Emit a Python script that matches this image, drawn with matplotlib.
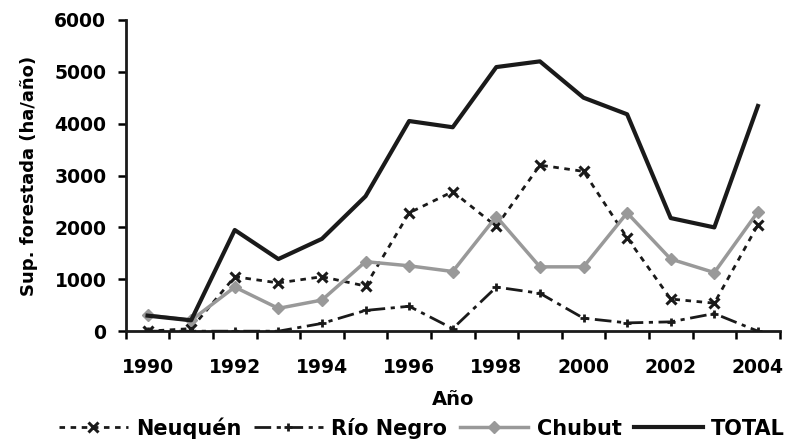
import matplotlib
matplotlib.use('Agg')
from matplotlib import pyplot as plt
import numpy as np

years = list(range(1990, 2005))
neuquen = [0, 50, 1050, 930, 1050, 870, 2280, 2690, 2020, 3200, 3080, 1800, 620, 540, 2050]
rio_negro = [0, 0, 0, 0, 150, 400, 480, 50, 850, 730, 250, 160, 180, 340, 0]
chubut = [310, 210, 850, 440, 600, 1340, 1260, 1150, 2210, 1240, 1240, 2280, 1390, 1130, 2300]
total = [300, 210, 1950, 1390, 1780, 2600, 4050, 3930, 5090, 5200, 4500, 4180, 2180, 2000, 4340]
year_labels = [str(y) for y in years[::2]]

plt.rcParams['font.family'] = ['DejaVu Sans']
plt.rcParams['font.weight'] = 'bold'

fig = plt.figure(figsize=(7.86, 4.41), dpi=100)
ax = fig.add_axes([0.160, 0.249, 0.832, 0.706])

x = np.arange(len(years))
ax.plot(x, neuquen, color='#1a1a1a', linestyle=(0, (2, 2)), linewidth=2,
        marker='x', markersize=7, markeredgewidth=2.2, label='Neuquén')
ax.plot(x, rio_negro, color='#1a1a1a', linestyle=(0, (6, 2, 1.5, 2)), linewidth=2,
        marker='+', markersize=6, markeredgewidth=2, label='Río Negro')
ax.plot(x, chubut, color='#999999', linewidth=2.5,
        marker='D', markersize=6, label='Chubut')
ax.plot(x, total, color='#1a1a1a', linewidth=3, label='TOTAL')

ax.set_xlim(-0.5, len(years) - 0.5)
ax.set_ylim(0, 6000)
ax.set_yticks(range(0, 6001, 1000))
ax.set_xticks(np.arange(-0.5, len(years), 1.0))
ax.set_xticklabels([])
ax.set_xticks(x[::2], minor=True)
ax.set_xticklabels(year_labels, minor=True)
ax.tick_params(axis='x', which='minor', length=0, pad=19, labelsize=13.5)
ax.tick_params(axis='x', which='major', direction='out', length=6, width=1.8)
ax.tick_params(axis='y', direction='out', length=6, width=1.8, labelsize=13.5, pad=8)

for s in ['top', 'right']:
    ax.spines[s].set_visible(False)
for s in ['left', 'bottom']:
    ax.spines[s].set_linewidth(2)
    ax.spines[s].set_color('#1a1a1a')

ax.set_xlabel('Año', fontsize=14, fontweight='bold', labelpad=10)
ax.set_ylabel('Sup. forestada (ha/año)', fontsize=13, fontweight='bold', labelpad=12)

fig.legend(loc='center', bbox_to_anchor=(0.537, 0.03), ncol=4, frameon=False,
           fontsize=15, handlelength=3.3, columnspacing=0.6, handletextpad=0.4,
           borderpad=0.1)

plt.savefig('out.png', dpi=100)
